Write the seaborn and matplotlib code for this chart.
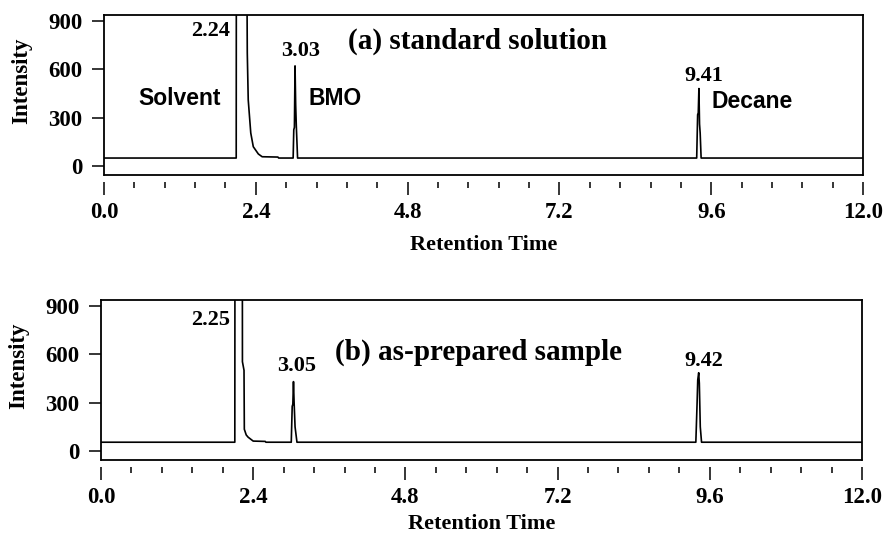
import matplotlib
matplotlib.use("Agg")
import matplotlib.pyplot as plt
from matplotlib.ticker import MultipleLocator, FixedLocator
import seaborn as sns
import pandas as pd

# chromatogram (a) standard solution
tiempo_a = [0.00, 2.09, 2.095, 2.24, 2.255, 2.265, 2.28, 2.32, 2.36, 2.44, 2.50, 2.75, 2.76,
            2.99, 3.00, 3.01, 3.02, 3.03, 3.04, 3.06,
            9.37, 9.385, 9.395, 9.405, 9.415, 9.425, 9.44, 12.00]
senal_a = [50, 50, 3000, 3200, 1500, 700, 410, 205, 120, 75, 58, 56, 50,
           50, 225, 240, 620, 380, 250, 50,
           50, 318, 330, 480, 260, 205, 50, 50]

# chromatogram (b) as-prepared sample
tiempo_b = [0.00, 2.11, 2.115, 2.225, 2.23, 2.255, 2.26, 2.29, 2.32, 2.40, 2.59, 2.60,
            3.00, 3.015, 3.025, 3.035, 3.045, 3.06, 3.09,
            9.38, 9.40, 9.41, 9.425, 9.435, 9.45, 9.47, 12.00]
senal_b = [55, 55, 3000, 3200, 553, 500, 135, 100, 86, 62, 60, 55,
           55, 277, 290, 430, 300, 150, 55,
           55, 300, 440, 485, 420, 150, 55, 55]

x_ticks = [0.0, 2.4, 4.8, 7.2, 9.6, 12.0]
x_tick_labels = ["0.0", "2.4", "4.8", "7.2", "9.6", "12.0"]
y_ticks = [0, 300, 600, 900]

sns.set_theme(style="white")
plt.rcParams["font.family"] = ["Liberation Serif", "DejaVu Serif"]
plt.rcParams["font.weight"] = "bold"
for clave in ["text.color", "axes.labelcolor", "xtick.color", "ytick.color", "axes.edgecolor"]:
    plt.rcParams[clave] = "black"

fig = plt.figure(figsize=(8.83, 5.36), dpi=100)
ax_a = fig.add_axes([0.1178, 0.6735, 0.8596, 0.2985])
ax_b = fig.add_axes([0.1144, 0.1418, 0.8618, 0.2985])

YLIM = (-55, 935)


def estilo_panel(ax, y_xlabel):
    ax.set_xlim(0, 12)
    ax.set_ylim(*YLIM)
    for lado in ["left", "top", "right"]:
        ax.spines[lado].set_color("black")
        ax.spines[lado].set_linewidth(1.3)
    # marcas del eje x separadas del recuadro
    ax.spines["bottom"].set_position(("outward", 5))
    ax.spines["bottom"].set_visible(False)
    ax.plot([0, 1], [0, 0], transform=ax.transAxes, color="black", lw=1.3, clip_on=False)
    ax.xaxis.set_major_locator(FixedLocator(x_ticks))
    ax.set_xticklabels(x_tick_labels)
    ax.xaxis.set_minor_locator(MultipleLocator(0.48))
    ax.set_yticks(y_ticks)
    ax.tick_params(axis="x", which="major", direction="out", length=9.5, width=1.1,
                   bottom=True, pad=5, labelsize=16.5)
    ax.tick_params(axis="x", which="minor", direction="out", length=4.5, width=1.1,
                   bottom=True)
    ax.tick_params(axis="y", which="major", direction="out", length=8.5, width=1.1,
                   left=True, pad=7, labelsize=16.5)
    for lab in ax.get_xticklabels() + ax.get_yticklabels():
        lab.set_fontweight("bold")
    ax.set_xlabel("Retention Time", fontsize=16, fontweight="bold", va="center")
    ax.xaxis.set_label_coords(0.5, y_xlabel)
    ax.set_ylabel("Intensity", fontsize=16.5, fontweight="bold")
    ax.yaxis.set_label_coords(-0.095, 0.59)


df_a = pd.DataFrame({"Tiempo": tiempo_a, "Senal": senal_a})
df_b = pd.DataFrame({"Tiempo": tiempo_b, "Senal": senal_b})
sns.lineplot(data=df_a, x="Tiempo", y="Senal", ax=ax_a, color="black", lw=1.2,
             estimator=None, sort=False)
sns.lineplot(data=df_b, x="Tiempo", y="Senal", ax=ax_b, color="black", lw=1.2,
             estimator=None, sort=False)

estilo_panel(ax_a, -0.435)
estilo_panel(ax_b, -0.40)

serif = dict(fontweight="bold", fontsize=16, color="black")
sans = dict(fontweight="bold", fontsize=16.5, color="black", family="Liberation Sans")

# (a)
ax_a.text(5.91, 772, "(a) standard solution", ha="center", va="center", fontsize=21,
          fontweight="bold")
ax_a.text(1.99, 834, "2.24", ha="right", va="center", **serif)
ax_a.text(3.11, 710, "3.03", ha="center", va="center", **serif)
ax_a.text(9.49, 560, "9.41", ha="center", va="center", **serif)
ax_a.text(1.20, 417, "Solvent", ha="center", va="center", **sans)
ax_a.text(3.23, 417, "BMO", ha="left", va="center", **sans)
ax_a.text(9.61, 398, "Decane", ha="left", va="center", **sans)

# (b)
ax_b.text(5.95, 612, "(b) as-prepared sample", ha="center", va="center", fontsize=21,
          fontweight="bold")
ax_b.text(2.03, 814, "2.25", ha="right", va="center", **serif)
ax_b.text(3.09, 527, "3.05", ha="center", va="center", **serif)
ax_b.text(9.50, 557, "9.42", ha="center", va="center", **serif)

fig.savefig("out.png", dpi=100, facecolor="white")
